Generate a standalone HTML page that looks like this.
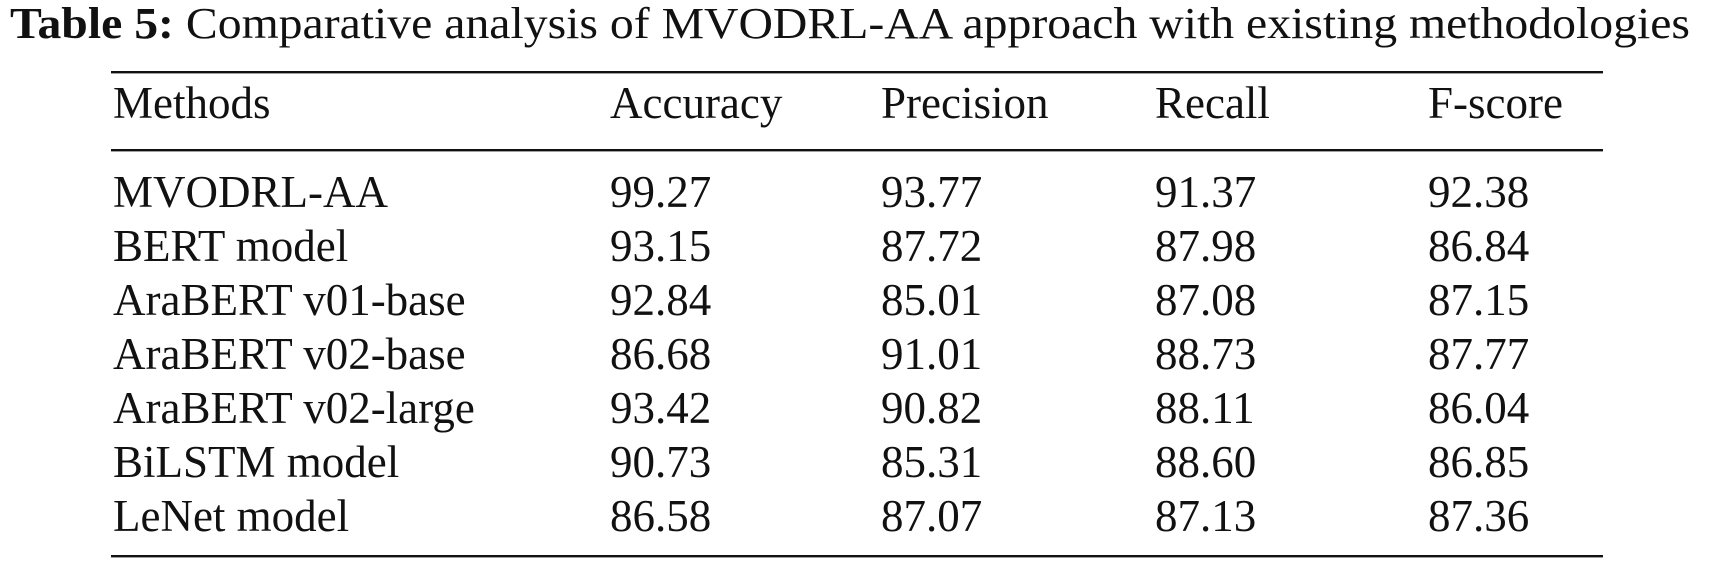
<!DOCTYPE html>
<html><head><meta charset="utf-8"><style>
html,body{margin:0;padding:0;background:#fff;}
svg{display:block;font-family:"Liberation Serif",serif;fill:#111;}
</style></head><body>
<svg width="1712" height="562" viewBox="0 0 1712 562">
<text x="10" y="38" font-size="44" textLength="1680" lengthAdjust="spacingAndGlyphs"><tspan font-weight="bold">Table 5:</tspan>  Comparative analysis of MVODRL-AA approach with existing methodologies</text>
<rect x="111" y="71" width="1492" height="2.4" fill="#111"/>
<rect x="111" y="149" width="1492" height="2.4" fill="#111"/>
<rect x="111" y="555" width="1492" height="2.4" fill="#111"/>
<g id="hdr" font-size="45"></g>
<g id="body" font-size="45"></g>
</svg>
<script>
const headers=["Methods","Accuracy","Precision","Recall","F-score"];
const methods=["MVODRL-AA","BERT model","AraBERT v01-base","AraBERT v02-base","AraBERT v02-large","BiLSTM model","LeNet model"];
const accuracy=["99.27","93.15","92.84","86.68","93.42","90.73","86.58"];
const precision=["93.77","87.72","85.01","91.01","90.82","85.31","87.07"];
const recall=["91.37","87.98","87.08","88.73","88.11","88.60","87.13"];
const fscore=["92.38","86.84","87.15","87.77","86.04","86.85","87.36"];
const colX=[113,610,881,1155,1428];
const NS="http://www.w3.org/2000/svg";
const hdr=document.getElementById('hdr');
headers.forEach((h,i)=>{const t=document.createElementNS(NS,'text');t.setAttribute('x',colX[i]);t.setAttribute('y',118);t.textContent=h;


hdr.appendChild(t);});
const body=document.getElementById('body');
const cols=[methods,accuracy,precision,recall,fscore];
methods.forEach((m,r)=>{const y=207+r*54;cols.forEach((c,i)=>{const t=document.createElementNS(NS,'text');t.setAttribute('x',colX[i]);t.setAttribute('y',y.toFixed(1));t.textContent=c[r];


body.appendChild(t);});});
</script>
</body></html>
